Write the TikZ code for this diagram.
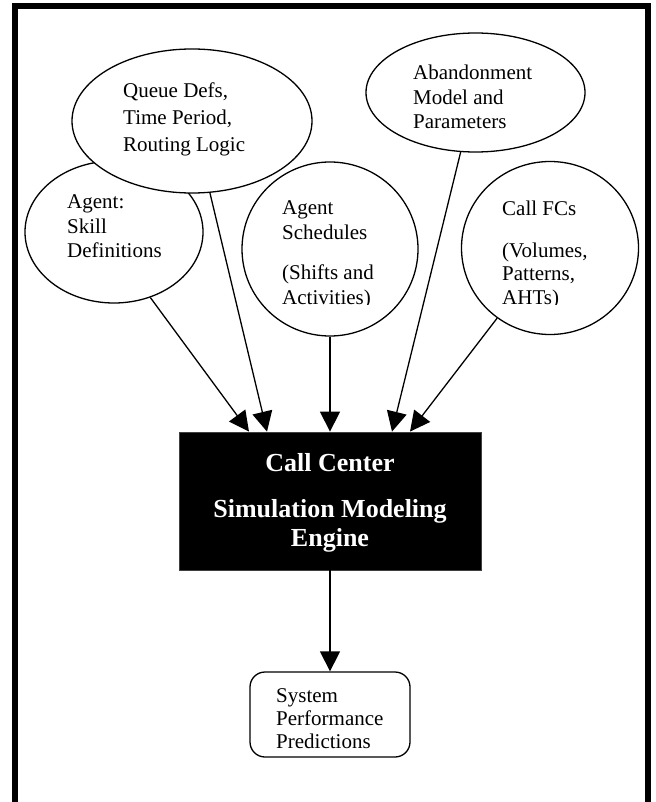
\documentclass[tikz,border=0pt]{standalone}
\usepackage{fontspec}
\setmainfont{Liberation Serif}
\usetikzlibrary{arrows.meta,shapes.geometric}
\begin{document}
\begin{tikzpicture}[x=1pt,y=-1pt,
  bubble/.style={draw, line width=1.3pt, fill=white, ellipse, inner sep=0pt},
  txt/.style={align=left, anchor=base west, inner sep=0pt},
  arr/.style={line width=1.3pt, -{Triangle[length=20pt,width=20pt]}},
  frameline/.style={line width=6pt, line cap=butt}]
\useasboundingbox (0,0) rectangle (655,802);
% frame
\draw[frameline] (15,802) -- (15,6.5) -- (647.5,6.5) -- (647.5,802);
% bubbles
\node[bubble, minimum width=178pt, minimum height=142pt] (skill) at (114,232) {};
\node[bubble, minimum width=240pt, minimum height=144pt] (queue) at (192,121) {};
\node[bubble, minimum width=219pt, minimum height=119pt] (aband) at (475.5,92.5) {};
\node[bubble, minimum width=176pt, minimum height=174pt] (sched) at (330,249) {};
\node[bubble, minimum width=177pt, minimum height=173pt] (calls) at (550,248) {};
% bubble texts (anchor = baseline of the last line)
\node[txt, font=\fontsize{21}{27}\selectfont] (queuet) at (123,152) {Queue Defs,\\Time Period,\\Routing Logic};
\begin{scope}
\clip (300,30) rectangle (600,129);
\node[txt, font=\fontsize{21}{24.5}\selectfont] (abandt) at (413,129) {Abandonment\\Model and\\Parameters};
\end{scope}
\node[txt, font=\fontsize{21}{24}\selectfont] (skillt) at (67,257) {Agent:\\Skill\\Definitions};
\begin{scope}
\clip (250,180) rectangle (420,304.5);
\node[txt, font=\fontsize{21}{25}\selectfont] (schedt) at (282,304) {Agent\\Schedules\\[15pt](Shifts and\\Activities)};
\end{scope}
\begin{scope}
\clip (470,180) rectangle (640,304.5);
\node[txt, font=\fontsize{21}{23.5}\selectfont] (callst) at (502,304) {Call FCs\\[18.5pt](Volumes,\\Patterns,\\AHTs)};
\end{scope}
% engine
\node[draw=black!75, fill=black, line width=0.8pt, minimum width=302pt, minimum height=138pt, inner sep=0pt] (engine) at (330,501) {};
\node[align=center, anchor=base, inner sep=0pt, text=white, font=\fontsize{26}{29}\selectfont\bfseries] (enginet) at (330,546) {Call Center\\[17pt]Simulation Modeling\\Engine};
% result
\node[draw, line width=1.3pt, rounded corners=15pt, minimum width=160pt, minimum height=85pt, fill=white] (result) at (330,714.5) {};
\node[txt, font=\fontsize{21}{23}\selectfont] (resultt) at (276,748) {System\\Performance\\Predictions};
% connector end points on the engine
\path (engine.north) ++(-81,0) coordinate (e1);
\path (engine.north) ++(-63,0) coordinate (e2);
\path (engine.north) coordinate (e3);
\path (engine.north) ++(62,0) coordinate (e4);
\path (engine.north) ++(80,0) coordinate (e5);
% connectors
\draw[arr] (skill.-61) -- (e1);
\draw[arr] (queue.-76) -- (e2);
\draw[arr] (sched.south) -- (e3);
\draw[arr] (aband.-104.6) -- (e4);
\draw[arr] (calls.-127.5) -- (e5);
\draw[arr] (engine.south) -- (result.north);
\end{tikzpicture}
\end{document}
